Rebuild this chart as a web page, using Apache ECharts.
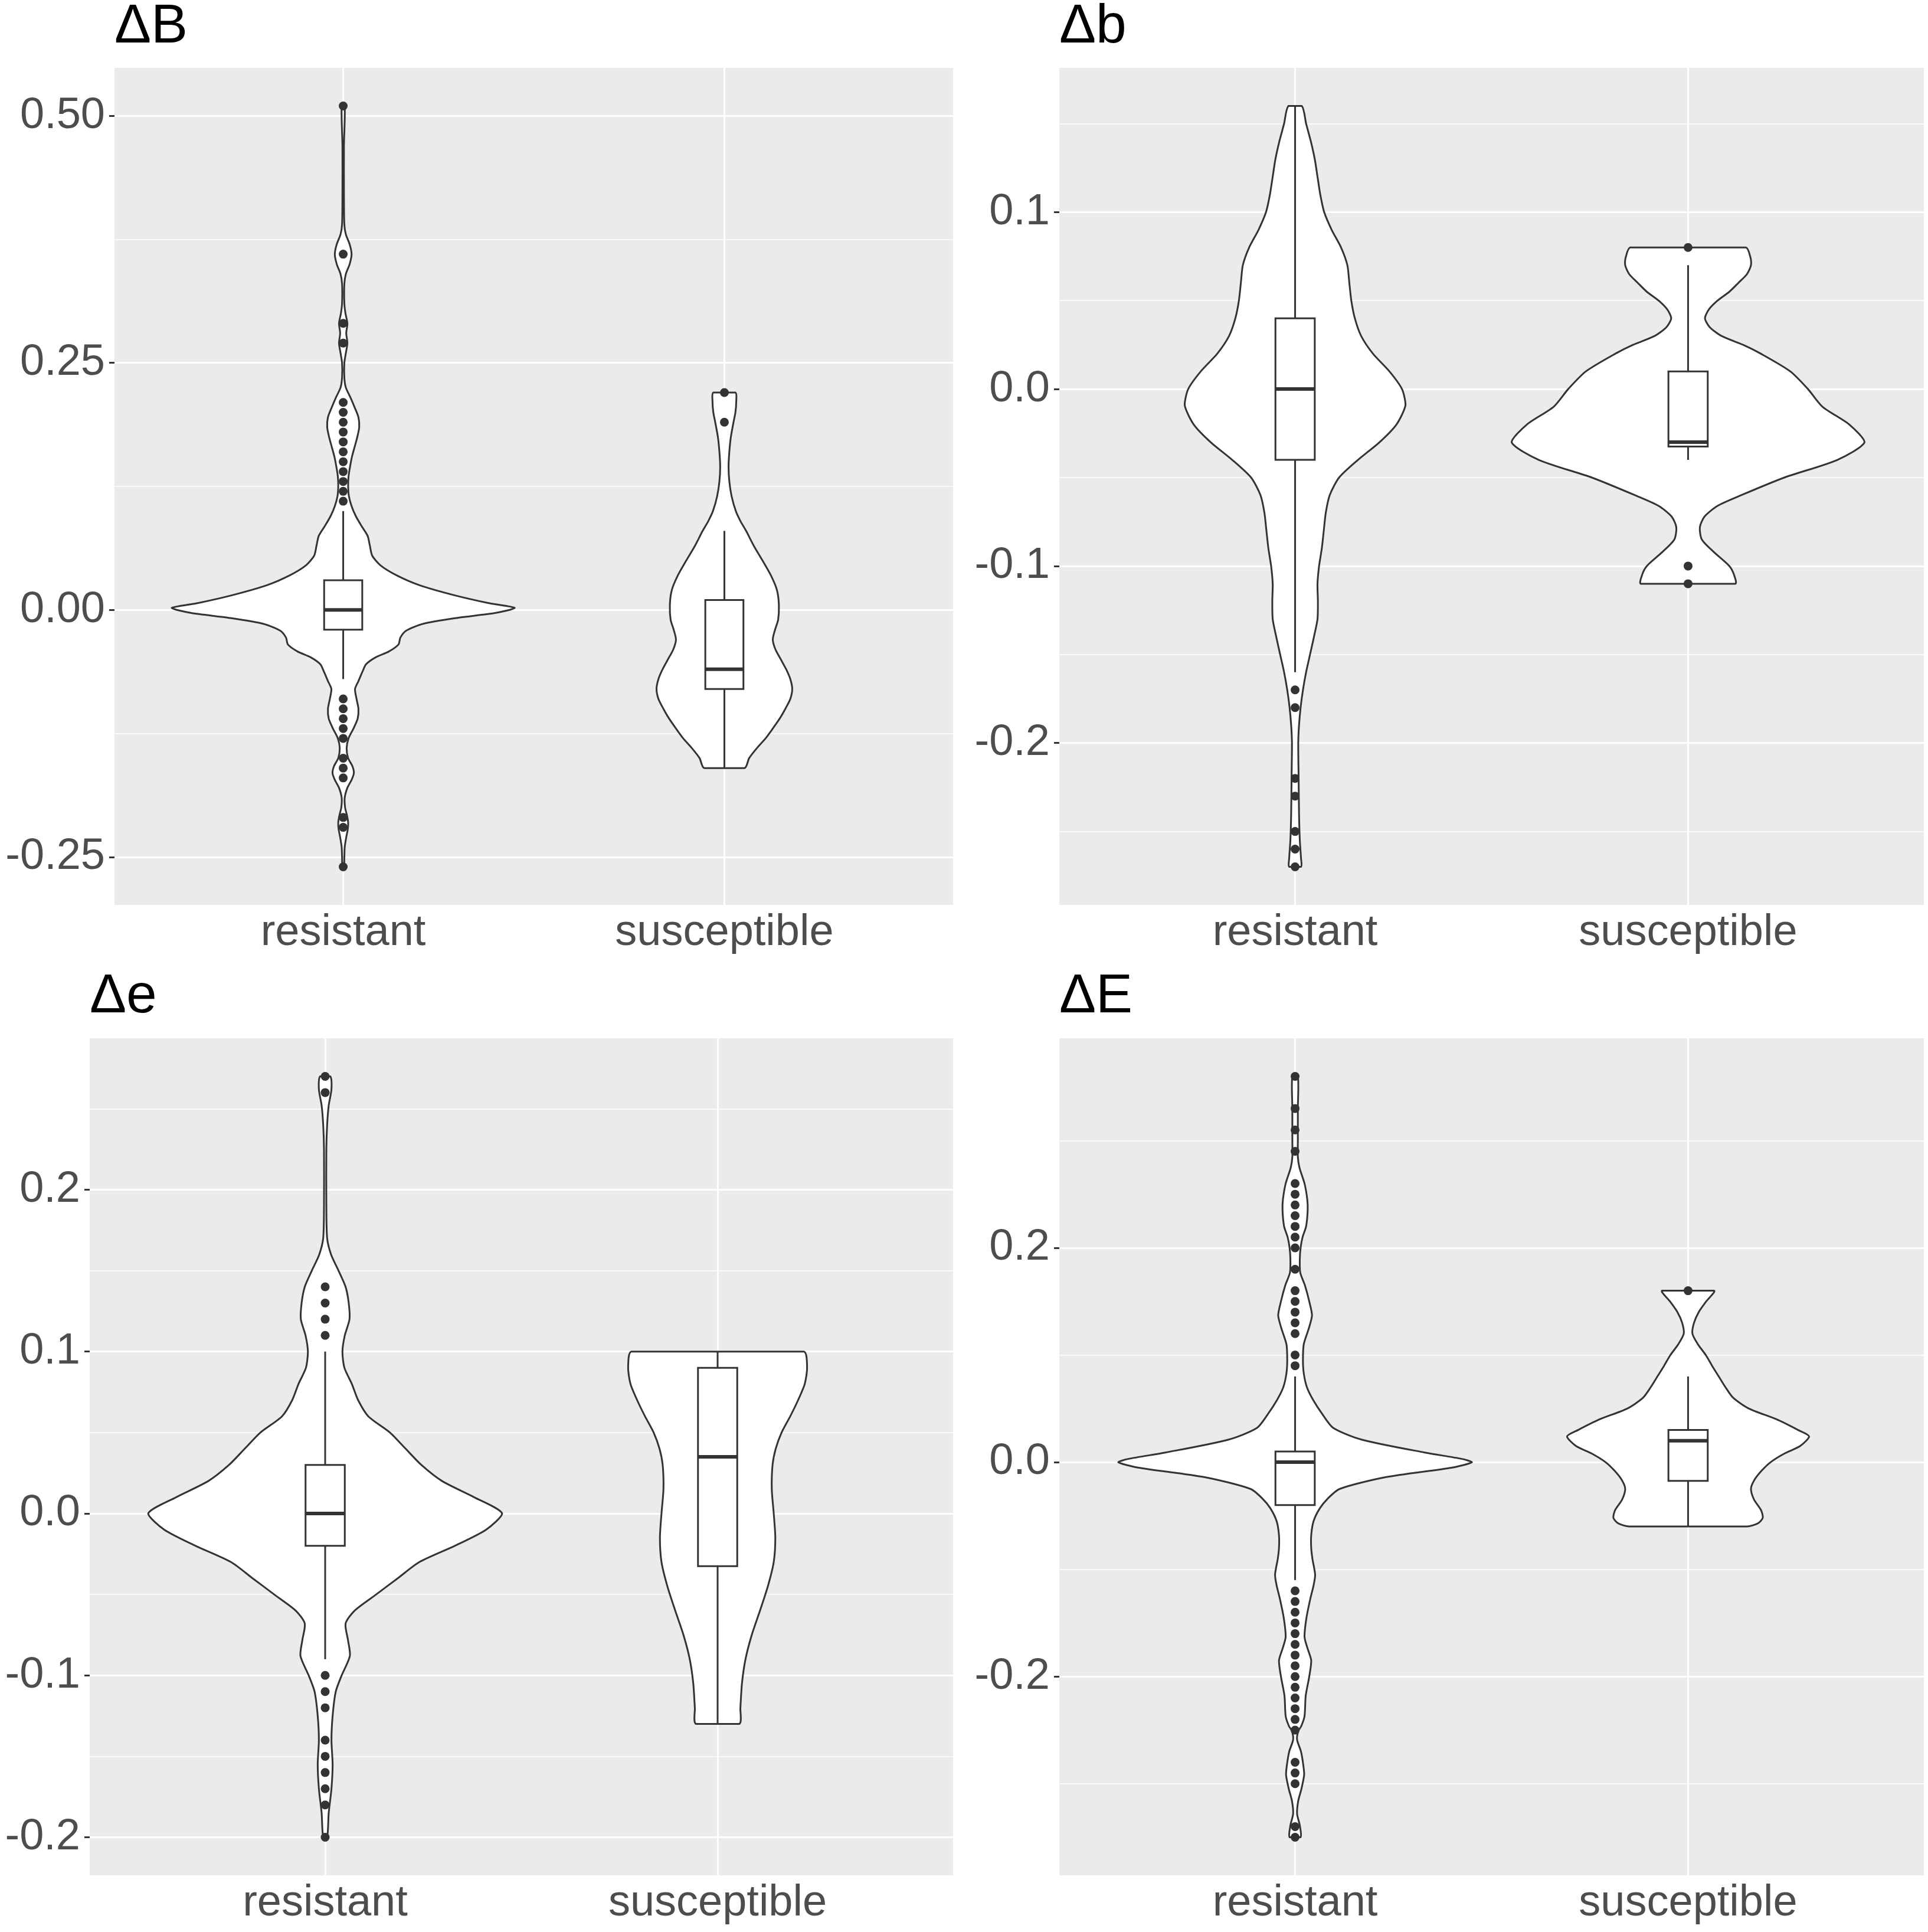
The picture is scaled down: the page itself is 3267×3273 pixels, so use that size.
<!DOCTYPE html>
<html>
<head>
<meta charset="utf-8">
<title>Violin plots</title>
<script src="https://cdn.jsdelivr.net/npm/echarts@6.0.0/dist/echarts.min.js"></script>
<style>
  html, body { margin: 0; padding: 0; background: #ffffff; }
  #chart { width: 3267px; height: 3273px; }
</style>
</head>
<body>
<div id="chart"></div>
<script>
// categories on every x axis
const categories = ['resistant', 'susceptible'];
const categoryPos = [1, 2];

// panel titles
const titles = ['ΔB', 'Δb', 'Δe', 'ΔE'];

// y axes: range, tick values, tick labels, major step
const yRangeBigB = [-0.2985, 0.5485];
const yTicksBigB = [-0.25, 0, 0.25, 0.5];
const yLabelsBigB = ['-0.25', '0.00', '0.25', '0.50'];
const yStepBigB = 0.25;

const yRangeSmallB = [-0.2915, 0.1815];
const yTicksSmallB = [-0.2, -0.1, 0, 0.1];
const yLabelsSmallB = ['-0.2', '-0.1', '0.0', '0.1'];
const yStepSmallB = 0.1;

const yRangeSmallE = [-0.2235, 0.2935];
const yTicksSmallE = [-0.2, -0.1, 0, 0.1, 0.2];
const yLabelsSmallE = ['-0.2', '-0.1', '0.0', '0.1', '0.2'];
const yStepSmallE = 0.1;

const yRangeBigE = [-0.3855, 0.3955];
const yTicksBigE = [-0.2, 0, 0.2];
const yLabelsBigE = ['-0.2', '0.0', '0.2'];
const yStepBigE = 0.2;

// violin outlines: [value, half width of the density], top to bottom
const violinBigBRes = [
  [0.51, 0.004], [0.47, 0.002], [0.42, 0.002], [0.39, 0.003], [0.38, 0.007],
  [0.37, 0.017], [0.36, 0.022], [0.35, 0.017], [0.34, 0.007], [0.33, 0.003],
  [0.31, 0.003], [0.30, 0.006], [0.29, 0.011], [0.28, 0.008], [0.27, 0.011],
  [0.26, 0.007], [0.25, 0.003], [0.235, 0.003], [0.225, 0.007], [0.215, 0.019],
  [0.205, 0.030], [0.195, 0.040], [0.185, 0.042], [0.175, 0.037], [0.165, 0.030],
  [0.155, 0.023], [0.145, 0.018], [0.135, 0.014], [0.125, 0.013], [0.115, 0.015],
  [0.105, 0.022], [0.095, 0.033], [0.085, 0.048], [0.075, 0.064], [0.065, 0.070],
  [0.055, 0.076], [0.045, 0.098], [0.035, 0.140], [0.025, 0.200], [0.015, 0.290],
  [0.007, 0.380], [0.002, 0.450], [-0.003, 0.400], [-0.008, 0.300], [-0.014, 0.210],
  [-0.021, 0.165], [-0.028, 0.150], [-0.035, 0.145], [-0.042, 0.120], [-0.048, 0.085],
  [-0.055, 0.060], [-0.063, 0.050], [-0.072, 0.040], [-0.080, 0.031], [-0.090, 0.035],
  [-0.100, 0.040], [-0.110, 0.038], [-0.120, 0.027], [-0.130, 0.014], [-0.140, 0.009],
  [-0.150, 0.013], [-0.158, 0.024], [-0.165, 0.028], [-0.172, 0.022], [-0.180, 0.011],
  [-0.190, 0.004], [-0.200, 0.005], [-0.208, 0.010], [-0.215, 0.013], [-0.222, 0.012],
  [-0.230, 0.008], [-0.240, 0.004], [-0.250, 0.003], [-0.260, 0.002]
];
const violinBigBSus = [
  [0.22, 0.029], [0.21, 0.031], [0.20, 0.029], [0.19, 0.024], [0.175, 0.017],
  [0.16, 0.013], [0.145, 0.011], [0.13, 0.013], [0.115, 0.019], [0.10, 0.030],
  [0.09, 0.042], [0.08, 0.057], [0.065, 0.077], [0.05, 0.100], [0.035, 0.122],
  [0.02, 0.138], [0.005, 0.143], [-0.01, 0.141], [-0.02, 0.133], [-0.03, 0.127],
  [-0.04, 0.134], [-0.05, 0.148], [-0.06, 0.162], [-0.07, 0.173], [-0.08, 0.178],
  [-0.09, 0.173], [-0.10, 0.160], [-0.11, 0.145], [-0.12, 0.127], [-0.13, 0.108],
  [-0.14, 0.085], [-0.15, 0.065], [-0.16, 0.053]
];
const violinSmallBRes = [
  [0.16, 0.017], [0.15, 0.028], [0.14, 0.040], [0.13, 0.050], [0.12, 0.057],
  [0.11, 0.064], [0.10, 0.074], [0.09, 0.093], [0.08, 0.117], [0.07, 0.133],
  [0.06, 0.138], [0.05, 0.143], [0.04, 0.152], [0.03, 0.168], [0.02, 0.198],
  [0.01, 0.240], [0.0, 0.272], [-0.009, 0.281], [-0.02, 0.258], [-0.03, 0.215],
  [-0.04, 0.160], [-0.05, 0.112], [-0.06, 0.088], [-0.07, 0.078], [-0.08, 0.073],
  [-0.09, 0.068], [-0.10, 0.061], [-0.11, 0.057], [-0.12, 0.058], [-0.13, 0.057],
  [-0.14, 0.048], [-0.15, 0.038], [-0.16, 0.028], [-0.17, 0.020], [-0.18, 0.014],
  [-0.19, 0.010], [-0.20, 0.008], [-0.22, 0.009], [-0.24, 0.010], [-0.255, 0.012],
  [-0.265, 0.015], [-0.27, 0.015]
];
const violinSmallBSus = [
  [0.08, 0.147], [0.075, 0.158], [0.07, 0.160], [0.065, 0.150], [0.06, 0.128],
  [0.055, 0.105], [0.05, 0.075], [0.045, 0.053], [0.04, 0.043], [0.035, 0.055],
  [0.03, 0.085], [0.025, 0.140], [0.02, 0.185], [0.01, 0.260], [0.0, 0.305],
  [-0.01, 0.342], [-0.02, 0.410], [-0.03, 0.449], [-0.04, 0.380], [-0.05, 0.245],
  [-0.06, 0.135], [-0.066, 0.075], [-0.072, 0.042], [-0.078, 0.030], [-0.085, 0.035],
  [-0.092, 0.065], [-0.10, 0.105], [-0.105, 0.117], [-0.11, 0.120]
];
const violinSmallERes = [
  [0.27, 0.013], [0.262, 0.016], [0.252, 0.009], [0.24, 0.005], [0.225, 0.003],
  [0.19, 0.003], [0.17, 0.005], [0.16, 0.015], [0.15, 0.034], [0.14, 0.052],
  [0.13, 0.060], [0.12, 0.062], [0.11, 0.050], [0.10, 0.044], [0.09, 0.049],
  [0.08, 0.068], [0.07, 0.084], [0.06, 0.110], [0.05, 0.165], [0.04, 0.205],
  [0.03, 0.245], [0.02, 0.298], [0.01, 0.380], [0.0, 0.451], [-0.01, 0.410],
  [-0.02, 0.330], [-0.03, 0.240], [-0.04, 0.185], [-0.05, 0.130], [-0.06, 0.075],
  [-0.068, 0.052], [-0.078, 0.058], [-0.088, 0.063], [-0.10, 0.042], [-0.11, 0.027],
  [-0.125, 0.019], [-0.14, 0.016], [-0.155, 0.019], [-0.17, 0.016], [-0.185, 0.009],
  [-0.20, 0.005]
];
const violinSmallESus = [
  [0.10, 0.220], [0.09, 0.228], [0.08, 0.222], [0.07, 0.205], [0.06, 0.185],
  [0.05, 0.163], [0.04, 0.148], [0.03, 0.140], [0.015, 0.138], [0.0, 0.143],
  [-0.015, 0.147], [-0.03, 0.143], [-0.045, 0.128], [-0.06, 0.108], [-0.075, 0.087],
  [-0.09, 0.071], [-0.105, 0.062], [-0.12, 0.058], [-0.13, 0.055]
];
const violinBigERes = [
  [0.36, 0.007], [0.33, 0.007], [0.30, 0.007], [0.285, 0.007], [0.275, 0.011],
  [0.26, 0.024], [0.245, 0.031], [0.235, 0.032], [0.22, 0.028], [0.21, 0.019],
  [0.20, 0.014], [0.19, 0.012], [0.177, 0.013], [0.165, 0.025], [0.15, 0.036],
  [0.137, 0.043], [0.125, 0.035], [0.11, 0.022], [0.095, 0.020], [0.083, 0.022],
  [0.07, 0.030], [0.058, 0.046], [0.045, 0.069], [0.032, 0.097], [0.021, 0.170],
  [0.009, 0.330], [0.003, 0.425], [0.0, 0.450], [-0.005, 0.400], [-0.014, 0.230],
  [-0.025, 0.113], [-0.034, 0.083], [-0.043, 0.063], [-0.055, 0.047], [-0.068, 0.041],
  [-0.08, 0.041], [-0.09, 0.044], [-0.105, 0.051], [-0.115, 0.047], [-0.127, 0.039],
  [-0.145, 0.029], [-0.163, 0.024], [-0.173, 0.031], [-0.185, 0.041], [-0.20, 0.036],
  [-0.218, 0.027], [-0.237, 0.024], [-0.246, 0.016], [-0.251, 0.008], [-0.259, 0.005],
  [-0.27, 0.015], [-0.283, 0.021], [-0.292, 0.023], [-0.305, 0.016], [-0.316, 0.008],
  [-0.328, 0.005], [-0.339, 0.012], [-0.35, 0.014]
];
const violinBigESus = [
  [0.16, 0.066], [0.15, 0.046], [0.14, 0.027], [0.13, 0.015], [0.12, 0.011],
  [0.11, 0.025], [0.10, 0.045], [0.09, 0.061], [0.08, 0.078], [0.07, 0.095],
  [0.06, 0.115], [0.05, 0.155], [0.04, 0.225], [0.03, 0.280], [0.024, 0.308],
  [0.015, 0.285], [0.008, 0.245], [0.0, 0.210], [-0.008, 0.187], [-0.017, 0.168],
  [-0.025, 0.160], [-0.035, 0.168], [-0.045, 0.186], [-0.052, 0.190], [-0.057, 0.178],
  [-0.06, 0.150]
];

// box stats: [lower whisker, Q1, median, Q3, upper whisker]
const boxBigB = [[-0.07, -0.02, 0, 0.03, 0.10], [-0.16, -0.08, -0.06, 0.01, 0.08]];
const boxSmallB = [[-0.16, -0.04, 0, 0.04, 0.16], [-0.04, -0.0325, -0.03, 0.01, 0.07]];
const boxSmallE = [[-0.09, -0.02, 0, 0.03, 0.10], [-0.13, -0.0325, 0.035, 0.09, 0.10]];
const boxBigE = [[-0.11, -0.04, 0, 0.01, 0.08], [-0.06, -0.0175, 0.02, 0.03, 0.08]];

// outlying points
const outBigBRes = [0.51, 0.36, 0.29, 0.27, 0.21, 0.20, 0.19, 0.18, 0.17, 0.16, 0.15, 0.14, 0.13,
  0.12, 0.11, -0.09, -0.10, -0.11, -0.12, -0.13, -0.15, -0.16, -0.17, -0.21, -0.22, -0.26];
const outBigBSus = [0.22, 0.19];
const outSmallBRes = [-0.17, -0.18, -0.22, -0.23, -0.25, -0.26, -0.27];
const outSmallBSus = [0.08, -0.10, -0.11];
const outSmallERes = [0.27, 0.26, 0.14, 0.13, 0.12, 0.11, -0.10, -0.11, -0.12, -0.14, -0.15,
  -0.16, -0.17, -0.18, -0.20];
const outSmallESus = [];
const outBigERes = [0.36, 0.33, 0.31, 0.29, 0.26, 0.25, 0.24, 0.23, 0.22, 0.21, 0.20, 0.18,
  0.16, 0.15, 0.14, 0.13, 0.12, 0.10, 0.09, -0.12, -0.13, -0.14, -0.15, -0.16, -0.17, -0.18,
  -0.19, -0.20, -0.21, -0.22, -0.23, -0.24, -0.25, -0.28, -0.29, -0.30, -0.34, -0.35];
const outBigESus = [0.16];

// panel layout in pixels
const panels = [
  { grid: { left: 194, top: 115, width: 1421, height: 1418 }, titleAt: [194, 0],
    range: yRangeBigB, ticks: yTicksBigB, labels: yLabelsBigB, step: yStepBigB,
    violins: [violinBigBRes, violinBigBSus], boxes: boxBigB, outliers: [outBigBRes, outBigBSus] },
  { grid: { left: 1795, top: 115, width: 1465, height: 1418 }, titleAt: [1795, 0],
    range: yRangeSmallB, ticks: yTicksSmallB, labels: yLabelsSmallB, step: yStepSmallB,
    violins: [violinSmallBRes, violinSmallBSus], boxes: boxSmallB, outliers: [outSmallBRes, outSmallBSus] },
  { grid: { left: 152, top: 1759, width: 1463, height: 1418 }, titleAt: [152, 1643],
    range: yRangeSmallE, ticks: yTicksSmallE, labels: yLabelsSmallE, step: yStepSmallE,
    violins: [violinSmallERes, violinSmallESus], boxes: boxSmallE, outliers: [outSmallERes, outSmallESus] },
  { grid: { left: 1795, top: 1759, width: 1465, height: 1418 }, titleAt: [1795, 1643],
    range: yRangeBigE, ticks: yTicksBigE, labels: yLabelsBigE, step: yStepBigE,
    violins: [violinBigERes, violinBigESus], boxes: boxBigE, outliers: [outBigERes, outBigESus] }
];

const FONT = "'Liberation Sans', Arial, Helvetica, sans-serif";
const INK = '#333333';
const BOX_HALF = 0.05;

function violinRenderer(profiles) {
  return function (params, api) {
    const x = api.value(0);
    const prof = profiles[params.dataIndex];
    const left = prof.map(function (p) { return api.coord([x - p[1], p[0]]); });
    const right = prof.slice().reverse().map(function (p) { return api.coord([x + p[1], p[0]]); });
    const pts = left.concat(right);
    let x0 = Infinity, y0 = Infinity, x1 = -Infinity, y1 = -Infinity;
    pts.forEach(function (p) {
      x0 = Math.min(x0, p[0]); x1 = Math.max(x1, p[0]);
      y0 = Math.min(y0, p[1]); y1 = Math.max(y1, p[1]);
    });
    return {
      type: 'polygon',
      shape: { points: pts, smooth: 0.25, smoothConstraint: [[x0, y0], [x1, y1]] },
      style: { fill: '#ffffff', stroke: INK, lineWidth: 3 }
    };
  };
}

function boxRenderer(params, api) {
  const x = api.value(0);
  const lo = api.coord([x, api.value(1)]);
  const q1 = api.coord([x - BOX_HALF, api.value(2)]);
  const med = api.coord([x - BOX_HALF, api.value(3)]);
  const q3 = api.coord([x + BOX_HALF, api.value(4)]);
  const hi = api.coord([x, api.value(5)]);
  const line = { stroke: INK, lineWidth: 3 };
  return {
    type: 'group',
    children: [
      { type: 'line', shape: { x1: hi[0], y1: hi[1], x2: hi[0], y2: q3[1] }, style: line },
      { type: 'line', shape: { x1: lo[0], y1: q1[1], x2: lo[0], y2: lo[1] }, style: line },
      { type: 'rect', shape: { x: q1[0], y: q3[1], width: q3[0] - q1[0], height: q1[1] - q3[1] },
        style: { fill: '#ffffff', stroke: INK, lineWidth: 3 } },
      { type: 'line', shape: { x1: q1[0], y1: med[1], x2: q3[0], y2: med[1] },
        style: { stroke: INK, lineWidth: 6 } }
    ]
  };
}

const option = {
  backgroundColor: '#ffffff',
  animation: false,
  title: [],
  grid: [],
  xAxis: [],
  yAxis: [],
  series: []
};

panels.forEach(function (pn, i) {
  option.title.push({
    text: titles[i], left: pn.titleAt[0], top: pn.titleAt[1], padding: 0,
    textStyle: { fontFamily: FONT, fontSize: 93, fontWeight: 'normal', color: '#000000' }
  });
  option.grid.push(Object.assign({
    show: true, backgroundColor: '#EBEBEB', borderWidth: 0, containLabel: false, outerBoundsMode: 'none'
  }, pn.grid));
  option.xAxis.push({
    type: 'value', gridIndex: i, min: 0.4, max: 2.6, minInterval: 1, maxInterval: 1,
    axisLine: { show: false },
    axisTick: { show: true, length: 9, customValues: categoryPos, lineStyle: { color: INK, width: 3 } },
    axisLabel: {
      show: true, customValues: categoryPos, margin: 11,
      fontFamily: FONT, fontSize: 74, color: '#4D4D4D',
      formatter: function (v) { return categories[categoryPos.indexOf(v)] || ''; }
    },
    splitLine: { show: true, lineStyle: { color: '#ffffff', width: 3 } }
  });
  option.yAxis.push({
    type: 'value', gridIndex: i, min: pn.range[0], max: pn.range[1],
    minInterval: pn.step, maxInterval: pn.step,
    axisLine: { show: false },
    axisTick: { show: true, length: 9, customValues: pn.ticks, lineStyle: { color: INK, width: 3 } },
    axisLabel: {
      show: true, customValues: pn.ticks, margin: 16,
      fontFamily: FONT, fontSize: 74, color: '#4D4D4D',
      formatter: function (v) {
        const k = pn.ticks.findIndex(function (t) { return Math.abs(t - v) < 1e-9; });
        return k >= 0 ? pn.labels[k] : '';
      }
    },
    splitLine: { show: true, lineStyle: { color: '#ffffff', width: 3 } },
    minorTick: { show: false, splitNumber: 2 },
    minorSplitLine: { show: true, lineStyle: { color: '#ffffff', width: 1.5 } }
  });

  option.series.push({
    type: 'custom', xAxisIndex: i, yAxisIndex: i, silent: true, clip: false, z: 2,
    renderItem: violinRenderer(pn.violins),
    encode: { x: 0, y: [1, 2] },
    data: categoryPos.map(function (c, k) {
      const prof = pn.violins[k];
      return [c, prof[prof.length - 1][0], prof[0][0]];
    })
  });
  option.series.push({
    type: 'custom', xAxisIndex: i, yAxisIndex: i, silent: true, clip: false, z: 3,
    renderItem: boxRenderer,
    encode: { x: 0, y: [1, 2, 3, 4, 5] },
    data: categoryPos.map(function (c, k) { return [c].concat(pn.boxes[k]); })
  });
  const pts = [];
  categoryPos.forEach(function (c, k) {
    pn.outliers[k].forEach(function (v) { pts.push([c, v]); });
  });
  option.series.push({
    type: 'scatter', xAxisIndex: i, yAxisIndex: i, silent: true, z: 4,
    symbol: 'circle', symbolSize: 15,
    itemStyle: { color: INK, opacity: 1 },
    data: pts
  });
});

const chart = echarts.init(document.getElementById('chart'), null, { renderer: 'canvas' });
chart.setOption(option);
</script>
</body>
</html>
